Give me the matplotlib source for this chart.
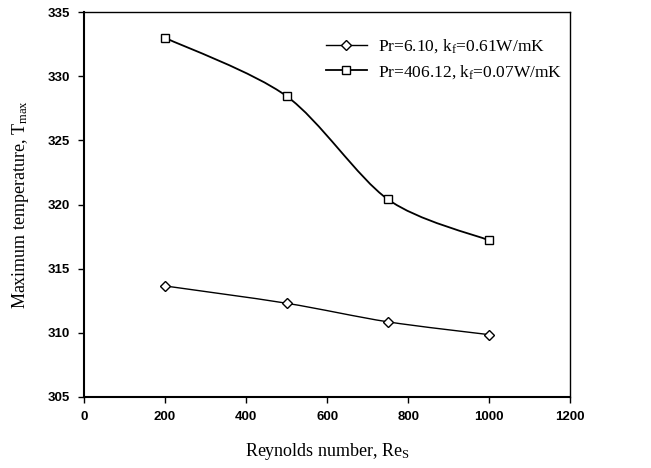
import numpy as np
import matplotlib
matplotlib.use('Agg')
import matplotlib.pyplot as plt
from matplotlib.path import Path
from matplotlib.patches import PathPatch

re_s = [200, 500, 750, 1000]
t_water = [313.65, 312.3, 310.85, 309.85]
t_oil = [333.0, 328.45, 320.4, 317.2]
lab_water = r'Pr=6.10, k$_f$=0.61W/mK'
lab_oil = r'Pr=406.12, k$_f$=0.07W/mK'

plt.rcParams['font.family'] = 'Liberation Sans'
plt.rcParams['mathtext.fontset'] = 'custom'
plt.rcParams['mathtext.rm'] = 'Liberation Serif'
plt.rcParams['mathtext.it'] = 'Liberation Serif'
serif = 'Liberation Serif'


def smooth_path(x, y, tension=0.15):
    # Excel-like smoothed line: cubic Bezier through the points
    x = np.asarray(x, float)
    y = np.asarray(y, float)
    verts = [(x[0], y[0])]
    codes = [Path.MOVETO]
    n = len(x)
    for i in range(n - 1):
        p0 = (x[max(i - 1, 0)], y[max(i - 1, 0)])
        p1 = (x[i], y[i])
        p2 = (x[i + 1], y[i + 1])
        p3 = (x[min(i + 2, n - 1)], y[min(i + 2, n - 1)])
        c1 = (p1[0] + (p2[0] - p0[0]) * tension, p1[1] + (p2[1] - p0[1]) * tension)
        c2 = (p2[0] - (p3[0] - p1[0]) * tension, p2[1] - (p3[1] - p1[1]) * tension)
        verts += [c1, c2, p2]
        codes += [Path.CURVE4] * 3
    return Path(verts, codes)


fig = plt.figure(figsize=(6.51, 4.68), dpi=100)
ax = fig.add_axes([0.129, 0.152, 0.747, 0.822])

for y, mk, lab, lw in [(t_water, 'D', lab_water, 1.0), (t_oil, 's', lab_oil, 1.3)]:
    ax.add_patch(PathPatch(smooth_path(re_s, y), fill=False, color='black', lw=lw))
    ax.plot(re_s, y, linestyle='none', marker=mk, mfc='white', mec='black',
            ms=6 if mk == 's' else 5, mew=1.0)
    ax.plot([], [], color='black', lw=lw, marker=mk, mfc='white', mec='black',
            ms=6 if mk == 's' else 5, label=lab)

ax.set_xlim(0, 1200)
ax.set_ylim(305, 335)
ax.set_xticks(np.arange(0, 1201, 200))
ax.set_yticks(np.arange(305, 336, 5))
ax.tick_params(direction='out', length=4, width=1, labelsize=9.5, pad=6)
for lbl in ax.get_xticklabels() + ax.get_yticklabels():
    lbl.set_fontweight('bold')
for s in ax.spines.values():
    s.set_linewidth(1.0)
ax.spines['left'].set_linewidth(1.5)
ax.spines['bottom'].set_linewidth(1.5)

ax.set_xlabel(r'Reynolds number, Re$_S$', family=serif, fontsize=13, labelpad=13)
ax.set_ylabel(r'Maximum temperature, T$_{max}$', family=serif, fontsize=13, labelpad=12)

leg = ax.legend(loc='upper right', bbox_to_anchor=(1.015, 0.975), frameon=False,
                prop={'family': serif, 'size': 12.5}, handlelength=2.4,
                labelspacing=0.45, handletextpad=0.6)

fig.savefig('out.png', dpi=100)
